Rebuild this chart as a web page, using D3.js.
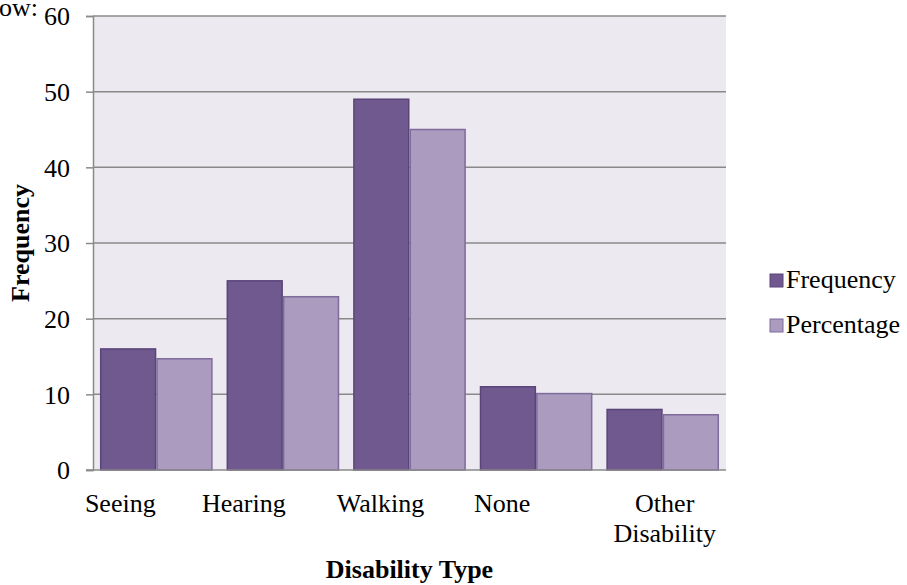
<!DOCTYPE html>
<html><head><meta charset="utf-8">
<script src="https://cdn.jsdelivr.net/npm/d3@7"></script>
<style>body{margin:0;background:#fff}svg{display:block}text{font-family:"Liberation Serif","Times New Roman",serif}</style>
</head><body><svg id="c" width="907" height="585"></svg>
<script>
const categories = ["Seeing", "Hearing", "Walking", "None", "Other Disability"];
const seriesNames = ["Frequency", "Percentage"];
const frequency = [16, 25, 49, 11, 8];
const percentage = [14.7, 22.9, 45.0, 10.1, 7.3];
const yTicks = [0, 10, 20, 30, 40, 50, 60];
const colors = {Frequency: "#70598f", Percentage: "#aa9bbf"};
const strokes = {Frequency: "#5a4478", Percentage: "#7f6b9c"};

const FS = 26;
const svg = d3.select("#c");
const m = {left: 93, right: 726, top: 16, bottom: 470};

const x = d3.scaleBand().domain(categories).range([m.left, m.right]).paddingInner(0.11).paddingOuter(0.055);
const x1 = d3.scaleBand().domain(seriesNames).range([0, x.bandwidth()]);
const y = d3.scaleLinear().domain([0, 60]).range([m.bottom, m.top]);

// plot background
svg.append("rect").attr("x", m.left).attr("y", m.top).attr("width", m.right - m.left).attr("height", m.bottom - m.top).attr("fill", "#ece9f0");

// gridlines
svg.append("g").selectAll("line").data(yTicks.filter(d => d > 0)).join("line")
  .attr("x1", m.left).attr("x2", m.right).attr("y1", d => y(d)).attr("y2", d => y(d))
  .attr("stroke", "#8a8a8a").attr("stroke-width", 1.5);

// y axis
const yAxis = d3.axisLeft(y).tickValues(yTicks).tickSize(7).tickPadding(16);
const gy = svg.append("g").attr("transform", `translate(${m.left},0)`).call(yAxis);
gy.select(".domain").attr("stroke", "#8a8a8a").attr("stroke-width", 1.5);
gy.selectAll(".tick line").attr("stroke", "#8a8a8a").attr("stroke-width", 1.5);
gy.selectAll(".tick text").attr("font-size", FS).attr("fill", "#000").attr("font-family", "Liberation Serif").attr("dy", "0.34em");

// bars
const rows = categories.map((c, i) => ({cat: c, vals: [{k: "Frequency", v: frequency[i]}, {k: "Percentage", v: percentage[i]}]}));
const g = svg.append("g").selectAll("g").data(rows).join("g").attr("transform", d => `translate(${x(d.cat)},0)`);
g.selectAll("rect").data(d => d.vals).join("rect")
  .attr("x", d => x1(d.k) + 0.75).attr("width", x1.bandwidth() - 1.5)
  .attr("y", d => y(d.v)).attr("height", d => y(0) - y(d.v))
  .attr("fill", d => colors[d.k]).attr("stroke", d => strokes[d.k]).attr("stroke-width", 1.5);

// x axis line
svg.append("line").attr("x1", m.left - 7).attr("x2", m.right).attr("y1", m.bottom).attr("y2", m.bottom).attr("stroke", "#8a8a8a").attr("stroke-width", 1.5);

// category labels (Excel-style placement)
const labelShift = [-36, -39, -29, -34, 2];
const lab = svg.append("g").attr("font-size", FS).attr("text-anchor", "middle");
categories.forEach((c, i) => {
  const cx = x(c) + x.bandwidth() / 2 + labelShift[i];
  const words = c === "Other Disability" ? ["Other", "Disability"] : [c];
  words.forEach((w, j) => lab.append("text").attr("x", cx).attr("y", 512 + j * 30).text(w));
});

// axis titles
svg.append("text").attr("x", (m.left + m.right) / 2).attr("y", 578).attr("text-anchor", "middle")
  .attr("font-size", FS).attr("font-weight", "bold").text("Disability Type");
svg.append("text").attr("transform", `translate(29,${(m.top + m.bottom) / 2}) rotate(-90)`).attr("text-anchor", "middle")
  .attr("font-size", FS).attr("font-weight", "bold").text("Frequency");

// stray document text (cut at page edge in the reference)
svg.append("text").attr("x", 38).attr("y", 16).attr("text-anchor", "end").attr("font-size", FS).text("ow:");

// legend
const lg = svg.append("g").selectAll("g").data(seriesNames).join("g").attr("transform", (d, i) => `translate(770,${274 + i * 45})`);
lg.append("rect").attr("width", 13).attr("height", 13).attr("fill", d => colors[d]).attr("stroke", d => strokes[d]).attr("stroke-width", 1);
lg.append("text").attr("x", 16).attr("y", 14).attr("font-size", FS).text(d => d);
</script></body></html>
